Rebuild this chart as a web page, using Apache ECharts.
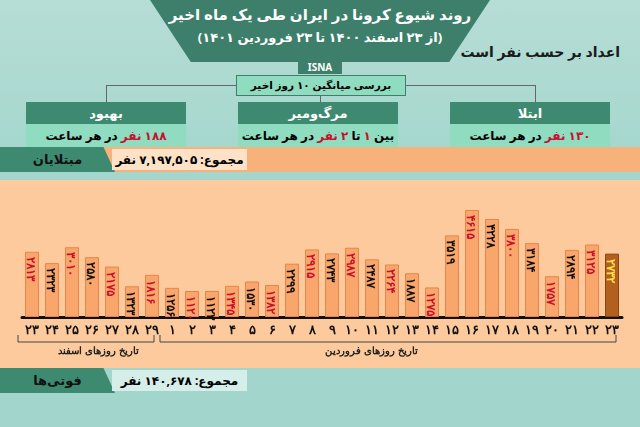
<!DOCTYPE html>
<html lang="fa">
<head>
<meta charset="UTF-8">
<title>روند شیوع کرونا</title>
<script src="https://cdn.jsdelivr.net/npm/echarts@6/dist/echarts.min.js"></script>
<style>
    body{margin:0;width:640px;height:427px;overflow:hidden;font-family:"Noto Sans","DejaVu Sans",sans-serif;position:relative;background:#fcca9c}
    .top{position:absolute;left:0;top:0;width:640px;height:180px;background:linear-gradient(#b6ddd6,#a2d6cc)}
    .title{position:absolute;left:150px;top:0;width:340px;height:62px;background:#3d7f6a;clip-path:polygon(0 0,100% 0,88% 100%,12% 100%);color:#fff;text-align:center;font-weight:bold}
    .title .t1{font-size:15px;margin-top:4px}
    .title .t2{font-size:13px;margin-top:4px}
    .isna{position:absolute;left:298px;top:61px;width:44px;height:13px;background:#3d7f6a;color:#fff;font-size:10px;font-weight:bold;text-align:center;line-height:13px}
    .unit{position:absolute;right:20px;top:42px;font-size:14px;font-weight:bold;color:#1a1a1a}
    .avg{position:absolute;left:236px;top:75px;width:168px;height:19px;background:#8fdcc0;border:1px solid #3d7f6a;font-size:10.5px;font-weight:bold;text-align:center;line-height:19px;white-space:nowrap}
    .hline{position:absolute;left:106px;top:85px;width:429px;height:0;border-top:1px solid #666}
    .v{position:absolute;top:85px;width:0;height:33px;border-left:1px solid #666}
    .box{position:absolute;top:102px;width:160px;height:72px}
    .box .h{height:22px;background:#3d8a70;color:#fff;font-size:13px;font-weight:bold;text-align:center;line-height:22px}
    .box .b{height:24px;background:#8fdcc0;font-size:12px;font-weight:bold;text-align:center;line-height:24px;border-bottom:2px solid #5aa88b}
    .red{color:#c8102e}
    .hdr{position:absolute;left:0;width:640px;height:25px;background:#f7b27c}
    .tag{position:absolute;left:0;height:25px;width:115px;background:#3d8a70;color:#111;font-size:13px;font-weight:bold;line-height:25px;text-align:center;clip-path:polygon(0 0,90% 0,100% 100%,0 100%)}
    .tot{position:absolute;left:112px;height:21px;top:2px;width:135px;background:#fde2c8;font-size:12px;font-weight:bold;line-height:21px;text-align:center}
    #chart{position:absolute;left:0;top:180px;width:640px;height:190px}
</style>
</head>
<body>
<div class="top"></div>
<div class="title" dir="rtl"><div class="t1">روند شیوع کرونا در ایران طی یک ماه اخیر</div><div class="t2">(از ۲۳ اسفند ۱۴۰۰ تا ۲۳ فروردین ۱۴۰۱)</div></div>
<div class="isna">ISNA</div>
<div class="unit" dir="rtl">اعداد بر حسب نفر است</div>
<div class="hline"></div>
<div class="v" style="left:106px"></div>
<div class="v" style="left:320px"></div>
<div class="v" style="left:535px"></div>
<div class="avg" dir="rtl">بررسی میانگین ۱۰ روز اخیر</div>
<div class="box" style="left:26px" dir="rtl"><div class="h">بهبود</div><div class="b"><span class="red">۱۸۸ نفر</span> در هر ساعت</div></div>
<div class="box" style="left:238px" dir="rtl"><div class="h">مرگ‌ومیر</div><div class="b">بین <span class="red">۱</span> تا <span class="red">۲ نفر</span> در هر ساعت</div></div>
<div class="box" style="left:450px" dir="rtl"><div class="h">ابتلا</div><div class="b"><span class="red">۱۳۰ نفر</span> در هر ساعت</div></div>
<div class="hdr" style="top:147px"><div class="tag">مبتلایان</div><div class="tot" dir="rtl">مجموع: ۷,۱۹۷,۵۰۵ نفر</div></div>
<div id="chart"></div>
<div class="hdr" style="top:368px;background:#a2d6cc;height:59px"><div class="tag">فوتی‌ها</div><div class="tot" dir="rtl" style="background:#d5eee9">مجموع: ۱۴۰,۶۷۸ نفر</div></div>
<script>
    var days = ['۲۳','۲۴','۲۵','۲۶','۲۷','۲۸','۲۹','۱','۲','۳','۴','۵','۶','۷','۸','۹','۱۰','۱۱','۱۲','۱۳','۱۴','۱۵','۱۶','۱۷','۱۸','۱۹','۲۰','۲۱','۲۲','۲۳'];
    var cases = [2813,2323,3010,2580,2175,1323,1816,1256,1120,1123,1345,1530,1382,2299,2915,2743,2987,2487,2264,1887,1275,3519,4615,4228,3800,3184,1757,2894,3125,2732];
    var monthNames = ['تاریخ روزهای اسفند','تاریخ روزهای فروردین'];

    function fa(n){ return String(n).replace(/\d/g,function(d){return '۰۱۲۳۴۵۶۷۸۹'[d];}); }

    var chart = echarts.init(document.getElementById('chart'));
    var data = cases.map(function(v,i){
        var last = i === cases.length-1;
        return {
            value: v,
            itemStyle: last ? {color:'#b3601f',borderColor:'#8a4514'} : {},
            label: {color: last ? '#ffe14a' : (i%2===0 ? '#c8102e' : '#111')}
        };
    });
    chart.setOption({
        animation:false,
        grid:{left:22,right:18,top:28,bottom:53},
        xAxis:{type:'category',data:days,
            axisLine:{lineStyle:{color:'#111',width:3}},axisTick:{show:false},
            axisLabel:{color:'#111',fontWeight:'bold',fontSize:13,margin:7}},
        yAxis:{type:'value',min:0,max:4700,show:false,splitLine:{show:false}},
        series:[{type:'bar',data:data,barWidth:'70%',
            itemStyle:{color:'#f9a66c',borderColor:'#e8854a',borderWidth:1},
            label:{show:true,position:'insideTop',rotate:-90,align:'left',verticalAlign:'middle',
                fontWeight:'bold',fontSize:12,offset:[0,2],formatter:function(p){return fa(p.value);}}}]
    });
    chart.setOption({graphic:[
        {type:'polyline',shape:{points:[[18,155],[18,162],[154,162],[154,155]]},style:{stroke:'#444',lineWidth:1,fill:null}},
        {type:'polyline',shape:{points:[[160,155],[160,162],[616,162],[616,155]]},style:{stroke:'#444',lineWidth:1,fill:null}},
        {type:'text',left:58,top:166,style:{text:monthNames[0],font:'bold 10px sans-serif',fill:'#222'}},
        {type:'text',left:325,top:166,style:{text:monthNames[1],font:'bold 10px sans-serif',fill:'#222'}}
    ]});
</script>
</body>
</html>
